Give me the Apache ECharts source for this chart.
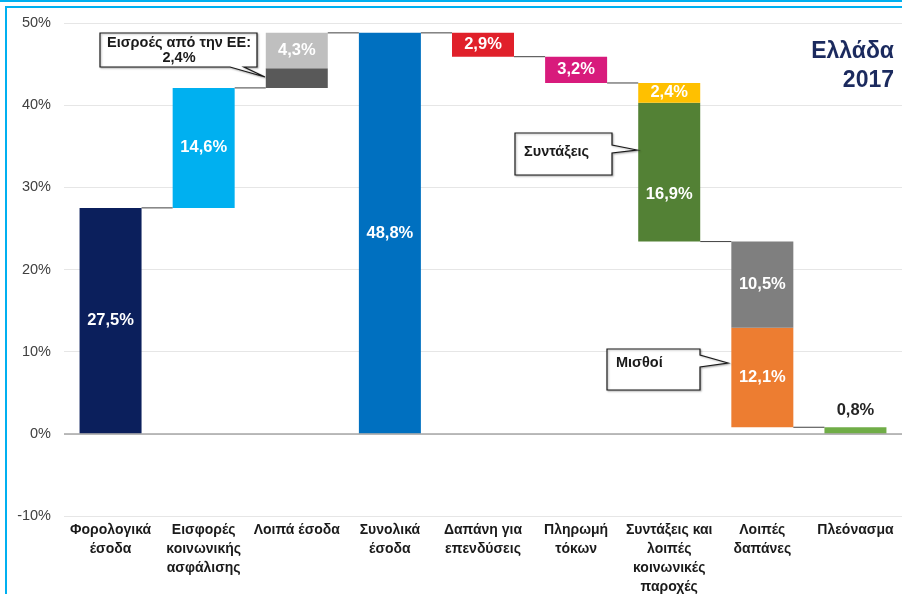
<!DOCTYPE html>
<html>
<head>
<meta charset="utf-8">
<script src="https://cdn.jsdelivr.net/npm/echarts@6/dist/echarts.min.js"></script>
<style>
html,body{margin:0;padding:0;background:#fff;}
#chart{width:902px;height:594px;}
</style>
</head>
<body>
<div id="chart"></div>
<script>
var categories = ['Φορολογικά\nέσοδα', 'Εισφορές\nκοινωνικής\nασφάλισης', 'Λοιπά έσοδα', 'Συνολικά\nέσοδα', 'Δαπάνη για\nεπενδύσεις', 'Πληρωμή\nτόκων', 'Συντάξεις και\nλοιπές\nκοινωνικές\nπαροχές', 'Λοιπές\nδαπάνες', 'Πλεόνασμα'];
var kinds = ['inc', 'inc', 'inc', 'total', 'dec', 'dec', 'dec', 'dec', 'total'];
var lowerSeg = [27.5, 14.6, 2.4, 48.8, 2.9, 3.2, 16.9, 12.1, 0.8];
var upperSeg = [0, 0, 4.3, 0, 0, 0, 2.4, 10.5, 0];
var lowerColors = ['#0B1F5C', '#00B0F0', '#595959', '#0070C0', '#E0202A', '#D81B7C', '#538135', '#ED7D31', '#70AD47'];
var upperColors = ['#FFFFFF', '#FFFFFF', '#BFBFBF', '#FFFFFF', '#FFFFFF', '#FFFFFF', '#FFC000', '#7F7F7F', '#FFFFFF'];
var yTicks = [-10, 0, 10, 20, 30, 40, 50];

// derive waterfall bases and connector levels
var bases = [], levels = [], L = 0;
for (var i = 0; i < categories.length; i++) {
  var t = lowerSeg[i] + upperSeg[i];
  if (kinds[i] === 'inc') { bases.push(L); L += t; levels.push(L); }
  else if (kinds[i] === 'total') { bases.push(0); L = t; levels.push(t); }
  else { L -= t; bases.push(L); levels.push(L); }
}
var connectors = [];
for (var j = 0; j < categories.length - 1; j++) connectors.push([j, levels[j]]);

function fmt(v) { return v.toFixed(1).replace('.', ',') + '%'; }

var chart = echarts.init(document.getElementById('chart'));
var font = 'Liberation Sans, Arial, sans-serif';

var lowerData = lowerSeg.map(function (v, i) {
  var item = { value: v, itemStyle: { color: lowerColors[i] } };
  if (i === 2) item.label = { show: false };
  if (i === 6) item.label = { offset: [0, 22] };
  if (i === 8) item.label = { position: 'top', color: '#262626', distance: 8 };
  return item;
});
var upperData = upperSeg.map(function (v, i) {
  return { value: v, itemStyle: { color: upperColors[i] }, label: { show: v > 0 } };
});

chart.setOption({
  animation: false,
  grid: { left: 64, right: 0, top: 23, bottom: 78, containLabel: false, outerBoundsMode: 'none' },
  xAxis: {
    type: 'category',
    data: categories,
    axisLine: { show: false },
    axisTick: { show: false },
    axisLabel: {
      interval: 0, margin: 5, color: '#1a1a1a', fontWeight: 'bold', fontSize: 14,
      fontFamily: font, lineHeight: 19, verticalAlign: 'top'
    }
  },
  yAxis: {
    type: 'value', min: -10, max: 50, interval: 10,
    axisLine: { show: false }, axisTick: { show: false },
    axisLabel: {
      color: '#404040', fontSize: 14.5, fontFamily: font, margin: 13,
      formatter: function (v) { return yTicks.indexOf(v) >= 0 ? v + '%' : ''; }
    },
    splitLine: { lineStyle: { color: '#E6E6E6', width: 1 } }
  },
  series: [
    {
      type: 'bar', stack: 'w', barWidth: 62, silent: true,
      itemStyle: { color: 'transparent' },
      data: bases,
      markLine: {
        silent: true, symbol: 'none', label: { show: false },
        lineStyle: { color: '#A6A6A6', width: 1.5, type: 'solid' },
        data: [{ yAxis: 0 }]
      }
    },
    {
      type: 'bar', stack: 'w', barWidth: 62,
      data: lowerData,
      label: {
        show: true, position: 'inside', color: '#FFFFFF', fontWeight: 'bold',
        fontSize: 16.5, fontFamily: font, formatter: function (p) { return fmt(p.value); }
      }
    },
    {
      type: 'bar', stack: 'w', barWidth: 62,
      data: upperData,
      label: {
        show: true, position: 'inside', color: '#FFFFFF', fontWeight: 'bold',
        fontSize: 16.5, fontFamily: font, formatter: function (p) { return fmt(p.value); }
      }
    },
    {
      type: 'custom', silent: true, z: 5,
      data: connectors,
      renderItem: function (params, api) {
        var idx = api.value(0), val = api.value(1);
        var p1 = api.coord([idx, val]);
        var p2 = api.coord([idx + 1, val]);
        var half = 31;
        return {
          type: 'line',
          shape: { x1: p1[0] + half, y1: p1[1], x2: p2[0] - half, y2: p2[1] },
          style: { stroke: '#404040', lineWidth: 1 }
        };
      }
    }
  ],
  graphic: [
    { type: 'line', shape: { x1: 0, y1: 1, x2: 902, y2: 1 }, style: { stroke: '#00B0F0', lineWidth: 2 } },
    { type: 'line', shape: { x1: 6, y1: 7, x2: 902, y2: 7 }, style: { stroke: '#00B0F0', lineWidth: 2 } },
    { type: 'line', shape: { x1: 6, y1: 6, x2: 6, y2: 594 }, style: { stroke: '#00B0F0', lineWidth: 2 } },
    { type: 'text', x: 894, y: 52, style: { text: 'Ελλάδα', align: 'right', verticalAlign: 'middle', fill: '#1B2A5E', font: 'bold 23px Liberation Sans, Arial, sans-serif' } },
    { type: 'text', x: 894, y: 81, style: { text: '2017', align: 'right', verticalAlign: 'middle', fill: '#1B2A5E', font: 'bold 23px Liberation Sans, Arial, sans-serif' } },
    {
      type: 'polygon', z: 10,
      shape: { points: [[100, 33], [257, 33], [257, 67], [244, 67], [265, 77], [230, 67], [100, 67]] },
      style: { fill: '#fff', stroke: '#1a1a1a', lineWidth: 1.2, shadowBlur: 2, shadowOffsetX: 1, shadowOffsetY: 1, shadowColor: 'rgba(0,0,0,0.3)' }
    },
    { type: 'text', z: 11, x: 179, y: 50, style: { text: 'Εισροές από την ΕΕ:\n2,4%', align: 'center', verticalAlign: 'middle', fill: '#1a1a1a', font: 'bold 14.5px Liberation Sans, Arial, sans-serif', lineHeight: 15 } },
    {
      type: 'polygon', z: 10,
      shape: { points: [[515, 133], [612, 133], [612, 145], [637, 150], [612, 153], [612, 175], [515, 175]] },
      style: { fill: '#fff', stroke: '#1a1a1a', lineWidth: 1.2, shadowBlur: 2, shadowOffsetX: 1, shadowOffsetY: 1, shadowColor: 'rgba(0,0,0,0.3)' }
    },
    { type: 'text', z: 11, x: 524, y: 152, style: { text: 'Συντάξεις', verticalAlign: 'middle', fill: '#1a1a1a', font: 'bold 14.5px Liberation Sans, Arial, sans-serif' } },
    {
      type: 'polygon', z: 10,
      shape: { points: [[607, 349], [700, 349], [700, 355], [728, 363], [700, 367], [700, 390], [607, 390]] },
      style: { fill: '#fff', stroke: '#1a1a1a', lineWidth: 1.2, shadowBlur: 2, shadowOffsetX: 1, shadowOffsetY: 1, shadowColor: 'rgba(0,0,0,0.3)' }
    },
    { type: 'text', z: 11, x: 616, y: 363, style: { text: 'Μισθοί', verticalAlign: 'middle', fill: '#1a1a1a', font: 'bold 14.5px Liberation Sans, Arial, sans-serif' } }
  ]
});
</script>
</body>
</html>
